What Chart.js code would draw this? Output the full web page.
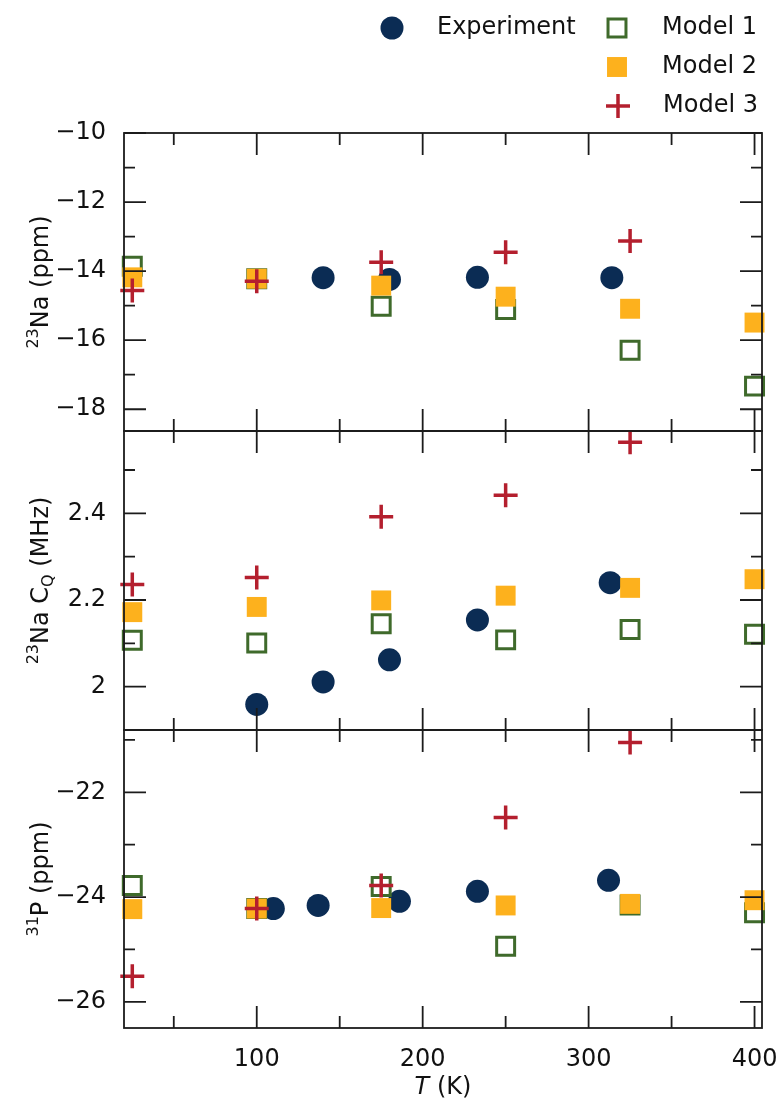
<!DOCTYPE html>
<html>
<head>
<meta charset="utf-8" />
<title>NMR parameters vs temperature</title>
<style>
  html, body { margin: 0; padding: 0; background: #fff; overflow: hidden; }
  canvas { position: absolute; left: 0; top: 0; }
</style>
</head>
<body>
<script src="https://cdn.jsdelivr.net/npm/chart.js@4/dist/chart.umd.min.js"></script>
<canvas id="naShift" width="784" height="1109"></canvas>
<canvas id="naCq" width="784" height="1109"></canvas>
<canvas id="pShift" width="784" height="1109"></canvas>
<script>
// temperatures (K)
const modelT = [25, 100, 175, 250, 325, 400];
const model3T = [25, 100, 175, 250, 325];
const expT_naShift = [140, 180, 233, 314];
const expT_naCq = [100, 140, 180, 233, 313];
const expT_pShift = [110, 137, 186, 233, 312];

// 23Na isotropic shift (ppm)
const exp_naShift = [-14.19, -14.24, -14.18, -14.19];
const m1_naShift = [-13.86, -14.22, -15.02, -15.11, -16.29, -17.33];
const m2_naShift = [-14.18, -14.22, -14.42, -14.74, -15.09, -15.49];
const m3_naShift = [-14.56, -14.29, -13.74, -13.45, -13.13];

// 23Na C_Q (MHz)
const exp_naCq = [1.959, 2.011, 2.062, 2.154, 2.240];
const m1_naCq = [2.107, 2.101, 2.145, 2.108, 2.132, 2.121];
const m2_naCq = [2.172, 2.184, 2.199, 2.210, 2.228, 2.248];
const m3_naCq = [2.236, 2.252, 2.392, 2.442, 2.564];

// 31P shift (ppm)
const exp_pShift = [-24.22, -24.16, -24.08, -23.89, -23.68];
const m1_pShift = [-23.78, -24.22, -23.80, -24.94, -24.15, -24.30];
const m2_pShift = [-24.23, -24.22, -24.21, -24.16, -24.13, -24.06];
const m3_pShift = [-25.51, -24.22, -23.78, -22.48, -21.05];

// ticks
const xMajor = [100, 200, 300, 400];
const xMinor = [50, 150, 250, 350];
const naShiftMajor = [-18, -16, -14, -12, -10];
const naShiftMinor = [-17, -15, -13, -11];
const naCqMajor = [2, 2.2, 2.4];
const naCqMinor = [2.1, 2.3, 2.5];
const pShiftMajor = [-26, -24, -22];
const pShiftMinor = [-25, -23, -21];

const labels = ['Experiment', 'Model 1', 'Model 2', 'Model 3'];

const FONT = '"DejaVu Sans", "Liberation Sans", sans-serif';
Chart.defaults.font.family = FONT;
Chart.defaults.font.size = 24;
Chart.defaults.color = '#111';

const NAVY = '#0b2c54', GREEN = '#3f6a2b', ORANGE = '#fdb11d', RED = '#b41f2e';

const styles = [
  { pointStyle: 'circle', pointRadius: 11.5, pointBackgroundColor: NAVY, pointBorderColor: NAVY, pointBorderWidth: 0, order: 4 },
  { pointStyle: 'rect', pointRadius: 12.7, pointBackgroundColor: 'rgba(0,0,0,0)', pointBorderColor: GREEN, pointBorderWidth: 3, order: 3 },
  { pointStyle: 'rect', pointRadius: 14.1, pointBackgroundColor: ORANGE, pointBorderColor: ORANGE, pointBorderWidth: 0, order: 2 },
  { pointStyle: 'cross', pointRadius: 12, pointBackgroundColor: RED, pointBorderColor: RED, pointBorderWidth: 3.5, order: 1 }
];

function series(i, xs, ys) {
  const s = styles[i];
  return Object.assign({
    label: labels[i],
    data: xs.map((x, k) => ({ x: x, y: ys[k] })),
    pointHoverRadius: s.pointRadius,
    clip: false
  }, s);
}

const fmt = v => String(v).replace('-', '\u2212');

function drawRich(ctx, parts, x, y, angle) {
  ctx.save();
  ctx.translate(x, y);
  ctx.rotate(angle);
  ctx.textAlign = 'left';
  ctx.textBaseline = 'alphabetic';
  ctx.fillStyle = '#111';
  let total = 0;
  parts.forEach(p => { ctx.font = p.font; p.w = ctx.measureText(p.text).width; total += p.w; });
  let cx = -total / 2;
  parts.forEach(p => { ctx.font = p.font; ctx.fillText(p.text, cx, p.dy || 0); cx += p.w; });
  ctx.restore();
}

const big = '24px ' + FONT, small = '16px ' + FONT;

// frame, inward ticks on all four sides, axis titles
function framePlugin(yMajor, yMinor, yTitle, xTitle) {
  return {
    id: 'frame',
    afterDatasetsDraw(chart) {
      const { ctx, chartArea: a, scales: { x, y } } = chart;
      ctx.save();
      ctx.strokeStyle = '#1b1b1b';
      ctx.lineWidth = 1.8;
      ctx.strokeRect(a.left, a.top, a.right - a.left, a.bottom - a.top);
      ctx.beginPath();
      const xt = (vals, len) => vals.forEach(v => {
        const px = x.getPixelForValue(v);
        ctx.moveTo(px, a.bottom); ctx.lineTo(px, a.bottom - len);
        ctx.moveTo(px, a.top); ctx.lineTo(px, a.top + len);
      });
      const yt = (vals, len) => vals.forEach(v => {
        const py = y.getPixelForValue(v);
        ctx.moveTo(a.left, py); ctx.lineTo(a.left + len, py);
        ctx.moveTo(a.right, py); ctx.lineTo(a.right - len, py);
      });
      xt(xMajor, 22); xt(xMinor, 12);
      yt(yMajor, 22); yt(yMinor, 11);
      ctx.stroke();
      ctx.restore();
      drawRich(ctx, yTitle, 48, (a.top + a.bottom) / 2, -Math.PI / 2);
      if (xTitle) drawRich(ctx, xTitle, (a.left + a.right) / 2, 1094, 0);
    }
  };
}

const legendPlugin = {
  id: 'cornerLegend',
  afterDraw(chart) {
    const ctx = chart.ctx;
    const spots = [[392, 28, 437], [617, 28, 662], [617, 67, 662], [618, 106, 663]];
    chart.data.datasets.forEach((ds, i) => {
      const [px, py, tx] = spots[i];
      ctx.save();
      ctx.fillStyle = ds.pointBackgroundColor;
      ctx.strokeStyle = ds.pointBorderColor;
      ctx.lineWidth = ds.pointBorderWidth;
      Chart.helpers.drawPoint(ctx, { pointStyle: ds.pointStyle, radius: ds.pointRadius, borderWidth: ds.pointBorderWidth, rotation: 0 }, px, py);
      ctx.fillStyle = '#111';
      ctx.font = '24px ' + FONT;
      ctx.textBaseline = 'middle';
      ctx.fillText(ds.label, tx, py);
      ctx.restore();
    });
  }
};

function makePanel(id, cfg) {
  return new Chart(id, {
    type: 'scatter',
    data: {
      datasets: [
        series(0, cfg.expT, cfg.exp),
        series(1, modelT, cfg.m1),
        series(2, modelT, cfg.m2),
        series(3, model3T, cfg.m3)
      ]
    },
    options: {
      responsive: false,
      animation: false,
      events: [],
      layout: { padding: { top: cfg.top, bottom: cfg.bottom, left: 0, right: 22 } },
      plugins: { legend: { display: false }, tooltip: { enabled: false } },
      scales: {
        x: {
          type: 'linear', min: 20, max: 404.5,
          display: cfg.showX,
          grid: { display: false },
          border: { display: false },
          afterBuildTicks: s => { s.ticks = xMajor.map(v => ({ value: v })); },
          afterFit: s => {
            if (cfg.showX) s.height = 81;
            s.paddingLeft = 0;
            s.paddingRight = 0;
          },
          ticks: { padding: 9, callback: v => fmt(v) }
        },
        y: {
          type: 'linear', min: cfg.yMin, max: cfg.yMax,
          grid: { display: false },
          border: { display: false },
          afterBuildTicks: s => { s.ticks = cfg.yMajor.map(v => ({ value: v })); },
          afterFit: s => { s.width = 124; },
          ticks: { padding: 10, callback: v => fmt(v) }
        }
      }
    },
    plugins: [framePlugin(cfg.yMajor, cfg.yMinor, cfg.yTitle, cfg.xTitle)].concat(cfg.extra || [])
  });
}

makePanel('naShift', {
  expT: expT_naShift, exp: exp_naShift, m1: m1_naShift, m2: m2_naShift, m3: m3_naShift,
  yMin: -18.63, yMax: -10, yMajor: naShiftMajor, yMinor: naShiftMinor,
  top: 133, bottom: 678, showX: false,
  yTitle: [{ text: '23', font: small, dy: -10 }, { text: 'Na (ppm)', font: big }],
  extra: [legendPlugin]
});

makePanel('naCq', {
  expT: expT_naCq, exp: exp_naCq, m1: m1_naCq, m2: m2_naCq, m3: m3_naCq,
  yMin: 1.9, yMax: 2.59, yMajor: naCqMajor, yMinor: naCqMinor,
  top: 431, bottom: 379, showX: false,
  yTitle: [{ text: '23', font: small, dy: -10 }, { text: 'Na C', font: big }, { text: 'Q', font: small, dy: 5 }, { text: ' (MHz)', font: big }]
});

makePanel('pShift', {
  expT: expT_pShift, exp: exp_pShift, m1: m1_pShift, m2: m2_pShift, m3: m3_pShift,
  yMin: -26.5, yMax: -20.81, yMajor: pShiftMajor, yMinor: pShiftMinor,
  top: 730, bottom: 0, showX: true,
  yTitle: [{ text: '31', font: small, dy: -10 }, { text: 'P (ppm)', font: big }],
  xTitle: [{ text: 'T', font: 'italic 24px ' + FONT }, { text: ' (K)', font: big }]
});
</script>
</body>
</html>
